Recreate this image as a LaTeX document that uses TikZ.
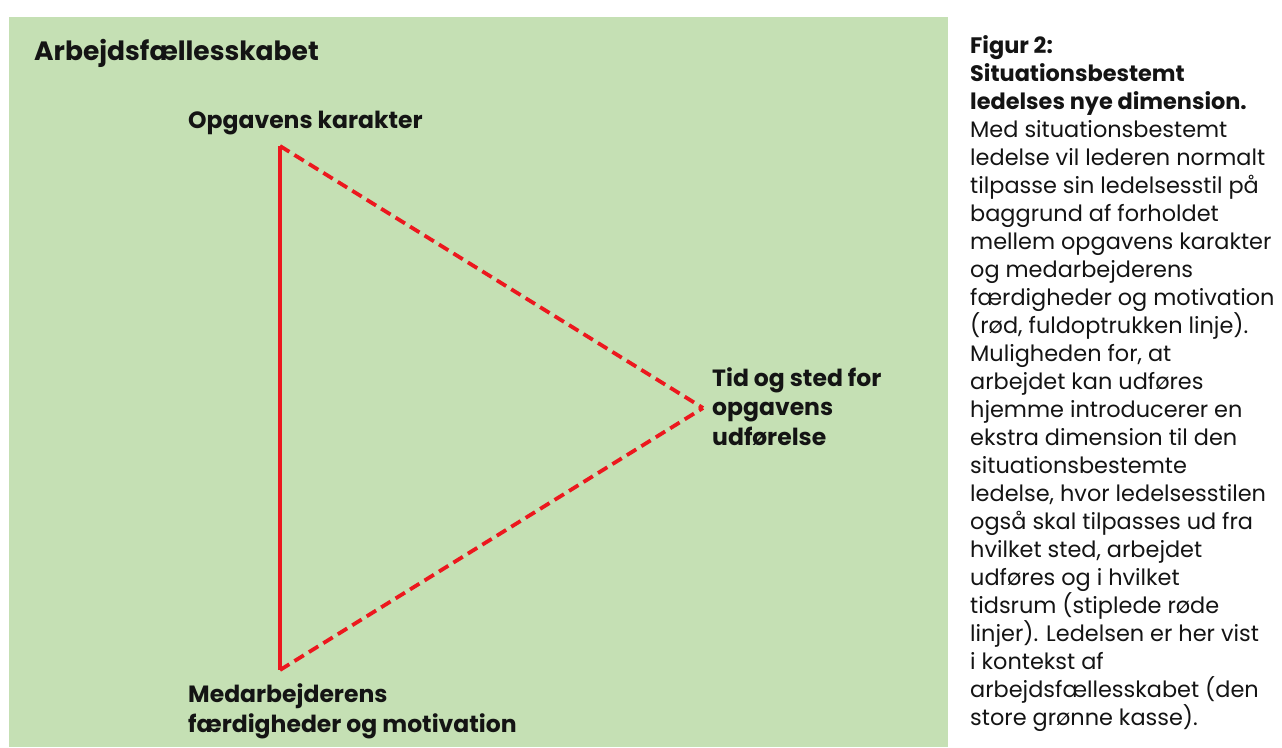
\documentclass[tikz,border=0pt]{standalone}
\usepackage{fontspec}
\setmainfont{Poppins}
\definecolor{boxgreen}{RGB}{197,224,180}
\definecolor{linered}{RGB}{236,24,30}
\definecolor{txt}{RGB}{20,20,20}
\begin{document}
\begin{tikzpicture}[x=1pt,y=-1pt,
  lbl/.style={inner sep=0pt,anchor=base west,align=left,text=txt,font=\bfseries\fontsize{23.5}{29.5}\selectfont},
  captiontext/.style={inner sep=0pt,anchor=base west,align=left,text=txt,font=\fontsize{22.4}{28}\selectfont},
  solidedge/.style={draw=linered,line width=3.8pt},
  dashededge/.style={draw=linered,line width=3.8pt,dash pattern=on 11pt off 6pt}]
\useasboundingbox (0,0) rectangle (1282,747);
\fill[white] (0,0) rectangle (1282,747);
\fill[boxgreen] (9,17) rectangle (948,747);
\node[lbl,font=\bfseries\fontsize{26.5}{28}\selectfont] (title) at (34,60) {Arbejdsfællesskabet};
\coordinate (A) at (280,146);
\coordinate (B) at (280,670);
\coordinate (C) at (703,408);
\draw[solidedge] (A) -- (B);
\draw[dashededge] (A) -- (C);
\draw[dashededge] (B) -- (C);
\node[lbl] (la) at (188,128) {Opgavens karakter};
\node[lbl] (lc) at (712,445) {Tid og sted for\\opgavens\\udførelse};
\node[lbl] (lb) at (188,732) {Medarbejderens\\færdigheder og motivation};
\node[captiontext] (caption) at (970,725) {\textbf{Figur 2:}\\\textbf{Situationsbestemt}\\\textbf{ledelses nye dimension.}\\Med situationsbestemt\\ledelse vil lederen normalt\\tilpasse sin ledelsesstil på\\baggrund af forholdet\\mellem opgavens karakter\\og medarbejderens\\færdigheder og motivation\\(rød, fuldoptrukken linje).\\Muligheden for, at\\arbejdet kan udføres\\hjemme introducerer en\\ekstra dimension til den\\situationsbestemte\\ledelse, hvor ledelsesstilen\\også skal tilpasses ud fra\\hvilket sted, arbejdet\\udføres og i hvilket\\tidsrum (stiplede røde\\linjer). Ledelsen er her vist\\i kontekst af\\arbejdsfællesskabet (den\\store grønne kasse).};
\end{tikzpicture}
\end{document}
